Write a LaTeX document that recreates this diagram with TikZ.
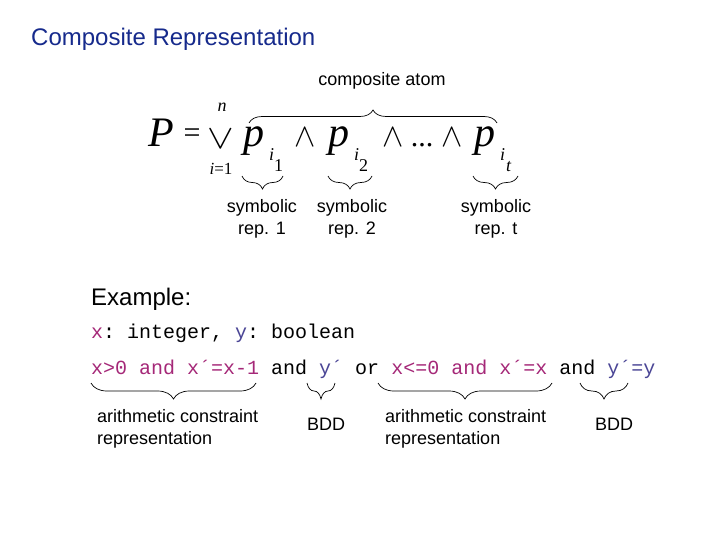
\documentclass[tikz,border=0pt]{standalone}
\usepackage{graphicx}
\usepackage{fontspec}
\setmainfont{Liberation Serif}
\setsansfont{Liberation Sans}
\setmonofont{Liberation Mono}
\usetikzlibrary{decorations.pathreplacing}
\definecolor{titleblue}{RGB}{22,42,140}
\definecolor{mag}{RGB}{165,40,120}
\definecolor{yblue}{RGB}{75,70,150}
\newcommand{\bigwedgeop}{\scalebox{3.2}[3.3]{$\wedge$}}
\newcommand{\bigveeop}{\scalebox{4.0}[3.4]{$\vee$}}
\tikzset{
  sans/.style={font=\sffamily\fontsize{18bp}{22bp}\selectfont,inner sep=0pt},
  bigsans/.style={font=\sffamily\fontsize{24bp}{28bp}\selectfont,inner sep=0pt},
  mono/.style={font=\ttfamily\fontsize{20bp}{24bp}\selectfont,inner sep=0pt,anchor=base west},
  ital/.style={font=\itshape\fontsize{42bp}{44bp}\selectfont,inner sep=0pt,anchor=base west},
  sub/.style={font=\itshape\fontsize{18bp}{20bp}\selectfont,inner sep=0pt,anchor=base west},
  subsub/.style={font=\fontsize{18bp}{20bp}\selectfont,inner sep=0pt,anchor=base west},
  wedgeop/.style={inner sep=0pt},
  bracestyle/.style={decorate,decoration={brace,amplitude=#1},line width=0.7bp},
}
\begin{document}
\begin{tikzpicture}[x=1bp,y=-1bp]
\useasboundingbox[fill=white] (0,0) rectangle (720,540);
% title
\node[bigsans,text=titleblue,anchor=base west] (title) at (31,46) {Composite Representation};
% formula
\node[ital] (P) at (148,147) {P};
\node[font=\fontsize{30bp}{32bp}\selectfont,inner sep=0pt] (eq) at (192,136) {=};
\node[inner sep=0pt] (vee) at (221,139.5) {\bigveeop};
\node[sub,anchor=base] (n) at (222,112) {n};
\node[font=\fontsize{17bp}{18bp}\selectfont,inner sep=0pt,anchor=base] (ieq) at (221,175) {\textit{i}=1};
\node[ital] (p1) at (243,147) {p};
\node[sub] (i1) at (269,161) {i};
\node[subsub] (s1) at (274,172) {1};
\node[wedgeop] (w1) at (305,137) {\bigwedgeop};
\node[ital] (p2) at (328,147) {p};
\node[sub] (i2) at (354,161) {i};
\node[subsub] (s2) at (359,172) {2};
\node[wedgeop] (w2) at (393,137) {\bigwedgeop};
\node[font=\fontsize{30bp}{32bp}\selectfont,inner sep=0pt,anchor=base] (dots) at (422,147) {...};
\node[wedgeop] (w3) at (452,137) {\bigwedgeop};
\node[ital] (pt) at (474,147) {p};
\node[sub] (it) at (500,161) {i};
\node[sub] (st) at (506,172) {t};
% top brace
\coordinate (ta) at (249,123);
\coordinate (tb) at (497,123);
\draw[bracestyle=13bp] (ta) -- (tb);
\node[sans,anchor=base] (catom) at (382,86) {composite atom};
% lower braces
\coordinate (b1a) at (242,176); \coordinate (b1b) at (283,176);
\coordinate (b2a) at (328,176); \coordinate (b2b) at (372,176);
\coordinate (b3a) at (473,176); \coordinate (b3b) at (518,176);
\draw[bracestyle=13bp] (b1b) -- (b1a);
\draw[bracestyle=13bp] (b2b) -- (b2a);
\draw[bracestyle=13bp] (b3b) -- (b3a);
\node[sans,anchor=base] (s1a) at (262,213) {symbolic};
\node[sans,anchor=base] (s1b) at (262,235) {rep. 1};
\node[sans,anchor=base] (s2a) at (352,213) {symbolic};
\node[sans,anchor=base] (s2b) at (352,235) {rep. 2};
\node[sans,anchor=base] (s3a) at (496,213) {symbolic};
\node[sans,anchor=base] (s3b) at (496,235) {rep. t};
% example
\node[bigsans,anchor=base west] (ex) at (91,305) {Example:};
\node[mono] (l1) at (91,338) {\textcolor{mag}{x}: integer, \textcolor{yblue}{y}: boolean};
\node[mono] (l2) at (91,374) {\textcolor{mag}{x>0 and x´=x-1} and \textcolor{yblue}{y´} or \textcolor{mag}{x<=0 and x´=x} and \textcolor{yblue}{y´=y}};
\coordinate (ca) at (91,383); \coordinate (cb) at (256,383);
\coordinate (da) at (307,383); \coordinate (db) at (335,383);
\coordinate (ea) at (378,383); \coordinate (eb) at (552,383);
\coordinate (fa) at (580,383); \coordinate (fb) at (628,383);
\draw[bracestyle=16bp] (cb) -- (ca);
\draw[bracestyle=16bp] (db) -- (da);
\draw[bracestyle=16bp] (eb) -- (ea);
\draw[bracestyle=16bp] (fb) -- (fa);
\node[sans,anchor=base west] (ar1) at (97,422) {arithmetic constraint};
\node[sans,anchor=base west] (ar1b) at (97,444) {representation};
\node[sans,anchor=base] (bdd1) at (326,430) {BDD};
\node[sans,anchor=base west] (ar2) at (385,422) {arithmetic constraint};
\node[sans,anchor=base west] (ar2b) at (385,444) {representation};
\node[sans,anchor=base] (bdd2) at (614,430) {BDD};
\end{tikzpicture}
\end{document}
